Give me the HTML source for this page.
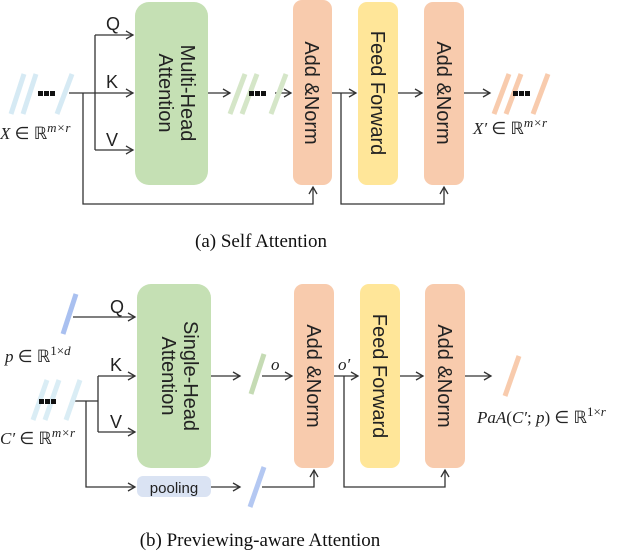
<!DOCTYPE html>
<html><head><meta charset="utf-8"><style>
html,body{margin:0;padding:0;background:#fff;}
svg{display:block;}
.s{font-family:"Liberation Sans",sans-serif;fill:#222;}
.m{font-family:"Liberation Serif",serif;font-style:italic;fill:#222;}
.c{font-family:"Liberation Serif",serif;fill:#111;}
</style></head><body>
<svg width="620" height="554" viewBox="0 0 620 554" xmlns="http://www.w3.org/2000/svg">
<defs>
<marker id="a" markerWidth="10" markerHeight="10" refX="8" refY="5" orient="auto" markerUnits="userSpaceOnUse">
<path d="M1,1 L8,5 L1,9" fill="none" stroke="#333" stroke-width="1.3"/></marker>
</defs>
<g stroke="#333" stroke-width="1.3" fill="none">
<path d="M69,93 H133" marker-end="url(#a)"/>
<path d="M95,35 V150"/>
<path d="M95,35 H133" marker-end="url(#a)"/>
<path d="M95,150 H133" marker-end="url(#a)"/>
<path d="M83,93 V204 H313 V187" marker-end="url(#a)"/>
<path d="M208,93 H230" marker-end="url(#a)"/>
<path d="M275,93 H291" marker-end="url(#a)"/>
<path d="M332,93 H356" marker-end="url(#a)"/>
<path d="M341,93 V204 H444 V187" marker-end="url(#a)"/>
<path d="M398,93 H422" marker-end="url(#a)"/>
<path d="M464,93 H490" marker-end="url(#a)"/>
<path d="M73,317 H135" marker-end="url(#a)"/>
<path d="M73,401 H98"/>
<path d="M98,376 V432"/>
<path d="M98,376 H135" marker-end="url(#a)"/>
<path d="M98,432 H135" marker-end="url(#a)"/>
<path d="M86,401 V487 H135" marker-end="url(#a)"/>
<path d="M211,487 H240" marker-end="url(#a)"/>
<path d="M262,487 H314 V470" marker-end="url(#a)"/>
<path d="M211,376 H240" marker-end="url(#a)"/>
<path d="M262,376 H292" marker-end="url(#a)"/>
<path d="M334,376 H358" marker-end="url(#a)"/>
<path d="M344,376 V487 H445 V470" marker-end="url(#a)"/>
<path d="M400,376 H423" marker-end="url(#a)"/>
<path d="M465,376 H491" marker-end="url(#a)"/>
</g>
<rect x="135" y="2" width="73" height="183" rx="14" fill="#c5e0b4"/>
<rect x="293" y="0" width="39" height="185" rx="9" fill="#f8cbad"/>
<rect x="358" y="2" width="40" height="183" rx="9" fill="#ffe699"/>
<rect x="424" y="2" width="40" height="183" rx="9" fill="#f8cbad"/>
<rect x="137" y="284" width="74" height="184" rx="14" fill="#c5e0b4"/>
<rect x="294" y="284" width="40" height="184" rx="9" fill="#f8cbad"/>
<rect x="360" y="284" width="40" height="184" rx="9" fill="#ffe699"/>
<rect x="425" y="284" width="40" height="184" rx="9" fill="#f8cbad"/>
<rect x="137" y="476" width="74" height="21" rx="6" fill="#dae3f3"/>
<g stroke-width="5" stroke-linecap="butt">
<path d="M24,74 L11,114 M36,74 L23,114 M72,74 L57,114" stroke="#d6eaf4"/>
<path d="M245,74 L230,114 M257,74 L242,114 M286,74 L271,114" stroke="#d5e6c8"/>
<path d="M509,74 L494,114 M521,74 L506,114 M548,74 L533,114" stroke="#f8cbad"/>
<path d="M76,294 L63,334" stroke="#a9c0f0"/>
<path d="M47,380 L33,420 M59,380 L45,420 M80,380 L66,420" stroke="#daedf5"/>
<path d="M264,354 L251,394" stroke="#c5dbb4"/>
<path d="M264,467 L250,507" stroke="#b4c8f2"/>
<path d="M519,356 L505,396" stroke="#f8cbad"/>
</g>
<g fill="#111">
<rect x="38" y="91" width="5" height="5"/><rect x="44" y="91" width="5" height="5"/><rect x="50" y="91" width="5" height="5"/>
<rect x="249" y="91" width="5" height="5"/><rect x="255" y="91" width="5" height="5"/><rect x="261" y="91" width="5" height="5"/>
<rect x="513" y="91" width="5" height="5"/><rect x="519" y="91" width="5" height="5"/><rect x="525" y="91" width="5" height="5"/>
<rect x="39" y="399" width="5" height="5"/><rect x="45" y="399" width="5" height="5"/><rect x="51" y="399" width="5" height="5"/>
</g>
<g class="s" font-size="18">
<text x="106" y="30">Q</text><text x="106" y="88">K</text><text x="106" y="146">V</text>
<text x="110" y="313">Q</text><text x="110" y="371">K</text><text x="110" y="428">V</text>
</g>
<g class="s" font-size="20">
<text transform="translate(181,93) rotate(90)" text-anchor="middle">Multi-Head</text>
<text transform="translate(159,93) rotate(90)" text-anchor="middle">Attention</text>
<text transform="translate(305,93) rotate(90)" text-anchor="middle">Add &amp;Norm</text>
<text transform="translate(371,93) rotate(90)" text-anchor="middle">Feed Forward</text>
<text transform="translate(437,93) rotate(90)" text-anchor="middle">Add &amp;Norm</text>
<text transform="translate(184,376) rotate(90)" text-anchor="middle">Single-Head</text>
<text transform="translate(162,376) rotate(90)" text-anchor="middle">Attention</text>
<text transform="translate(307,376) rotate(90)" text-anchor="middle">Add &amp;Norm</text>
<text transform="translate(373,376) rotate(90)" text-anchor="middle">Feed Forward</text>
<text transform="translate(438,376) rotate(90)" text-anchor="middle">Add &amp;Norm</text>
</g>
<text class="s" x="174" y="493" font-size="15" text-anchor="middle">pooling</text>
<g class="m" font-size="17">
<text x="0" y="139">X <tspan font-style="normal">∈ ℝ</tspan><tspan font-size="13" dy="-7">m×r</tspan></text>
<text x="473" y="134">X′ <tspan font-style="normal">∈ ℝ</tspan><tspan font-size="13" dy="-7">m×r</tspan></text>
<text x="5" y="362">p <tspan font-style="normal">∈ ℝ</tspan><tspan font-style="normal" font-size="13" dy="-7">1×</tspan><tspan font-size="13">d</tspan></text>
<text x="0" y="444">C′ <tspan font-style="normal">∈ ℝ</tspan><tspan font-size="13" dy="-7">m×r</tspan></text>
<text x="271" y="370">o</text>
<text x="338" y="370">o′</text>
<text x="477" y="423">PaA<tspan font-style="normal">(</tspan>C′<tspan font-style="normal">; </tspan>p<tspan font-style="normal">) ∈ ℝ</tspan><tspan font-style="normal" font-size="13" dy="-7">1×</tspan><tspan font-size="13">r</tspan></text>
</g>
<text class="c" x="261" y="247" font-size="19" text-anchor="middle">(a)  Self Attention</text>
<text class="c" x="260" y="546" font-size="19" text-anchor="middle">(b)  Previewing-aware Attention</text>
</svg>
</body></html>
